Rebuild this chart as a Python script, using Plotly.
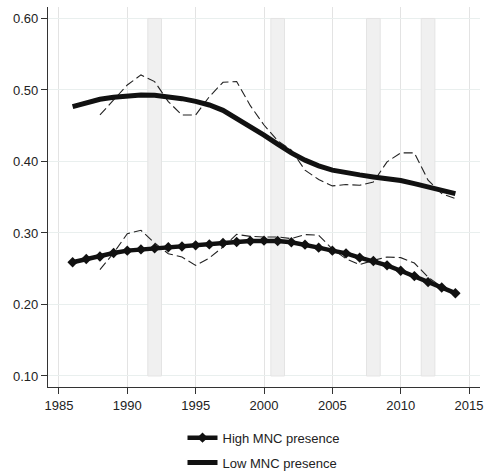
import plotly.graph_objects as go

# ---- data ----
years_smooth = list(range(1986, 2015))
high_smooth = [0.259, 0.2635, 0.267, 0.272, 0.2753, 0.277, 0.2785, 0.280, 0.281, 0.2827,
               0.284, 0.286, 0.2874, 0.2888, 0.2893, 0.2888, 0.287, 0.2837, 0.2795, 0.2753,
               0.2715, 0.2655, 0.2607, 0.2547, 0.2472, 0.2397, 0.2313, 0.2238, 0.2158]
low_smooth = [0.4766, 0.4827, 0.487, 0.4897, 0.492, 0.493, 0.4925, 0.4906, 0.4878, 0.484,
              0.479, 0.4715, 0.460, 0.4495, 0.4369, 0.4243, 0.412, 0.4018, 0.3938, 0.3878,
              0.384, 0.3812, 0.3784, 0.376, 0.3733, 0.369, 0.3644, 0.3597, 0.355]

years_high_raw = list(range(1988, 2014))
high_raw = [0.2487, 0.272, 0.299, 0.3037, 0.286, 0.271, 0.2663, 0.2547, 0.265, 0.2804,
            0.298, 0.2953, 0.2944, 0.2944, 0.2921, 0.2977, 0.2968, 0.2775, 0.264, 0.2557,
            0.2617, 0.2663, 0.2655, 0.258, 0.2383, 0.2243]

years_low_raw = list(range(1988, 2015))
low_raw = [0.465, 0.486, 0.507, 0.521, 0.5117, 0.4836, 0.465, 0.465, 0.4906, 0.5107,
           0.5117, 0.478, 0.451, 0.429, 0.4158, 0.3878, 0.3747, 0.3658, 0.3677, 0.3667,
           0.3714, 0.3994, 0.412, 0.412, 0.3738, 0.355, 0.348]

recession_start = [1991.5, 2000.5, 2007.5, 2011.5]
recession_end = [1992.5, 2001.5, 2008.5, 2012.5]
band_low, band_high = 0.10, 0.60

x_ticks = [1985, 1990, 1995, 2000, 2005, 2010, 2015]
y_ticks = [0.10, 0.20, 0.30, 0.40, 0.50, 0.60]

FONT = "Liberation Sans, Arial, sans-serif"

fig = go.Figure()

# raw (dashed) series
fig.add_trace(go.Scatter(x=years_low_raw, y=low_raw, mode="lines",
                         line=dict(color="#222222", width=1.1, dash="9px,4px"),
                         showlegend=False, hoverinfo="skip"))
fig.add_trace(go.Scatter(x=years_high_raw, y=high_raw, mode="lines",
                         line=dict(color="#222222", width=1.1, dash="9px,4px"),
                         showlegend=False, hoverinfo="skip"))

# smoothed series
fig.add_trace(go.Scatter(x=years_smooth, y=high_smooth, mode="lines+markers",
                         name="High MNC presence", legendgroup="high",
                         line=dict(color="#111111", width=4.5),
                         marker=dict(symbol="diamond", size=8, color="#111111")))
fig.add_trace(go.Scatter(x=years_smooth, y=low_smooth, mode="lines",
                         name="Low MNC presence", legendgroup="low",
                         line=dict(color="#111111", width=5)))

for s, e in zip(recession_start, recession_end):
    fig.add_shape(type="rect", xref="x", yref="y", x0=s, x1=e, y0=band_low, y1=band_high,
                  fillcolor="#f0f0f0", line=dict(color="#e4e4e4", width=1), layer="between")

fig.update_layout(
    width=484, height=476,
    margin=dict(l=48, r=4, t=7, b=89, autoexpand=False),
    paper_bgcolor="white", plot_bgcolor="white",
    font=dict(family=FONT, size=13, color="#222222"),
    showlegend=True,
    legend=dict(orientation="v", xref="paper", x=0.5, xanchor="center",
                yref="container", y=0.112, yanchor="top",
                font=dict(family=FONT, size=13, color="#222222"),
                tracegroupgap=5, bgcolor="rgba(0,0,0,0)"),
    xaxis=dict(range=[1984.2, 2015.8], tickvals=x_ticks, ticks="outside", ticklen=6,
               tickcolor="#333333", showline=True, linecolor="#333333", linewidth=1.3,
               showgrid=True, gridcolor="#e3e3e3", gridwidth=1, zeroline=False,
               tickfont=dict(family=FONT, size=13, color="#222222")),
    yaxis=dict(range=[0.0846, 0.616], tickvals=y_ticks, tickformat=".2f", ticks="outside",
               ticklen=6, tickcolor="#333333", showline=True, linecolor="#333333",
               linewidth=1.3, showgrid=True, gridcolor="#e9efee", gridwidth=1,
               zeroline=False, tickfont=dict(family=FONT, size=13, color="#222222")),
)

fig.write_html("out.html")
